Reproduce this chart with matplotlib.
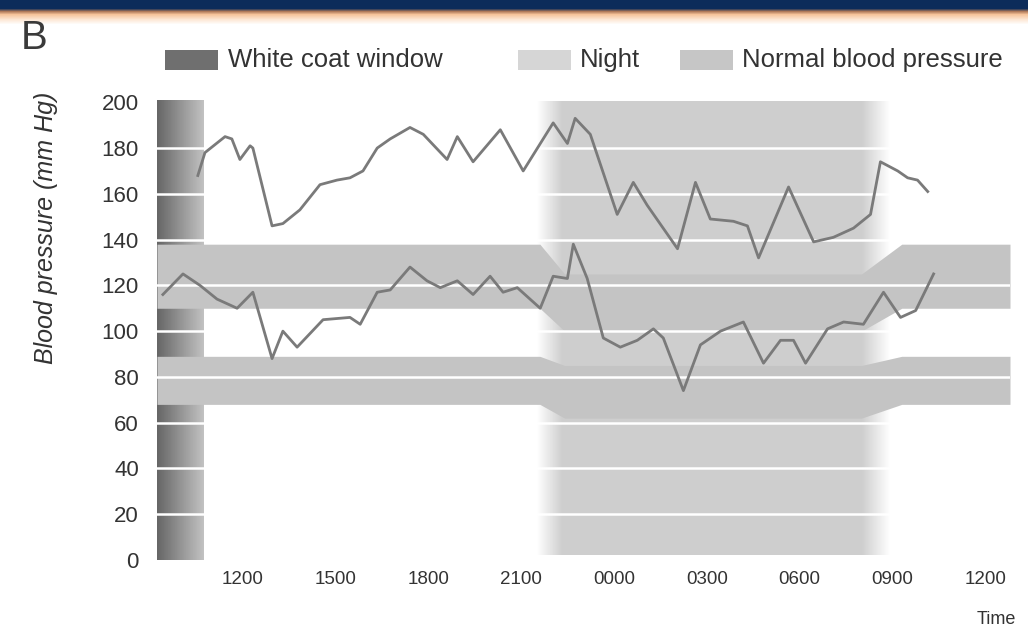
import matplotlib.pyplot as plt
import numpy as np
from matplotlib.colors import to_rgb
from matplotlib.patches import Rectangle


# time in hours from midnight of day 1 (values above 24 are the next morning)
sys_time = [10.54, 10.77, 11.42, 11.64, 11.90, 12.23, 12.32, 12.94, 13.29, 13.84,
            14.49, 15.04, 15.46, 15.88, 16.34, 16.76, 17.40, 17.83, 18.60, 18.93,
            19.44, 20.32, 21.06, 22.03, 22.49, 22.74, 23.23, 24.10, 24.62, 25.07,
            26.05, 26.63, 27.11, 27.86, 28.31, 28.67, 29.64, 30.45, 31.09, 31.74,
            32.29, 32.61, 33.17, 33.49, 33.81, 34.14]
systolic = [168, 178, 185, 184, 175, 181, 180, 146, 147, 153,
            164, 166, 167, 170, 180, 184, 189, 186, 175, 185,
            174, 188, 170, 191, 182, 193, 186, 151, 165, 155,
            136, 165, 149, 148, 146, 132, 163, 139, 141, 145,
            151, 174, 170, 167, 166, 161]

dia_time = [9.41, 10.06, 10.61, 11.16, 11.81, 12.32, 12.94, 13.29, 13.75, 14.59,
            15.46, 15.79, 16.34, 16.76, 17.40, 17.95, 18.38, 18.93, 19.44, 19.99,
            20.41, 20.87, 21.61, 22.03, 22.49, 22.68, 23.13, 23.65, 24.20, 24.75,
            25.27, 25.59, 26.24, 26.79, 27.44, 28.18, 28.83, 29.38, 29.80, 30.19,
            30.90, 31.42, 32.06, 32.71, 33.26, 33.75, 34.33]
diastolic = [116, 125, 120, 114, 110, 117, 88, 100, 93, 105,
             106, 103, 117, 118, 128, 122, 119, 122, 116, 124,
             117, 119, 110, 124, 123, 138, 123, 97, 93, 96,
             101, 97, 74, 94, 100, 104, 86, 96, 96, 86,
             101, 104, 103, 117, 106, 109, 125]

# normal blood pressure ranges, day -> night -> day
band_time = [9.22, 21.6, 22.4, 32.0, 33.3, 36.8]
sys_low = [110, 110, 100, 100, 110, 110]
sys_high = [138, 138, 125, 125, 138, 138]
dia_low = [68, 68, 62, 62, 68, 68]
dia_high = [89, 89, 85, 85, 89, 89]

night_time = [21.5, 22.3, 32.0, 32.9]
white_coat = (9.22, 10.71)

tick_hours = [12, 15, 18, 21, 24, 27, 30, 33, 36]
tick_labels = ["1200", "1500", "1800", "2100", "0000", "0300", "0600", "0900", "1200"]
grid_levels = [20, 40, 60, 80, 100, 120, 140, 160, 180]

NARROW = ["Liberation Sans Narrow", "Liberation Sans", "DejaVu Sans"]
REGULAR = ["Liberation Sans", "DejaVu Sans"]
TEXT = "#333333"
LINE = "#7a7a7a"

W, H = 1028, 631
fig = plt.figure(figsize=(W / 100, H / 100), dpi=100)

# journal header strip
head = fig.add_axes([0, 1 - 24 / H, 1, 24 / H])
stops = [(0, "#0c2c5a"), (8, "#0c2c5a"), (11, "#b07a5a"), (14, "#f6c39a"),
         (19, "#fde7d4"), (24, "#ffffff")]
rows = np.arange(24)
grad = np.array([[np.interp(r, [s[0] for s in stops], [to_rgb(s[1])[k] for s in stops])
                  for k in range(3)] for r in rows])
head.imshow(grad[:, None, :], aspect="auto", extent=[0, 1, 24, 0])
head.axis("off")

ax = fig.add_axes([157 / W, 71 / H, (1010 - 157) / W, 460 / H])
t0, t1 = band_time[0], band_time[-1]

# night shading with soft edges
tgrid = np.linspace(t0, t1, 800)
alpha = np.interp(tgrid, night_time, [0, 1, 1, 0])
night = np.zeros((1, tgrid.size, 4))
night[..., :3] = 0.81
night[..., 3] = alpha
ax.imshow(night, extent=[t0, t1, 2, 200], aspect="auto", zorder=0,
          interpolation="bilinear")

# white coat window gradient
shade = np.linspace(0.40, 0.76, 60)[None, :]
ax.imshow(shade, extent=[white_coat[0], white_coat[1], 0, 201], aspect="auto",
          cmap="gray", vmin=0, vmax=1, zorder=1, interpolation="bilinear")

ax.fill_between(band_time, sys_low, sys_high, color="#c4c4c4", lw=0, zorder=2)
ax.fill_between(band_time, dia_low, dia_high, color="#c4c4c4", lw=0, zorder=2)

for level in grid_levels:
    ax.axhline(level, color="white", lw=1.8, zorder=3)

ax.plot(sys_time, systolic, color=LINE, lw=2.0, zorder=4)
ax.plot(dia_time, diastolic, color=LINE, lw=2.0, zorder=4)

ax.set_xlim(t0, t1)
ax.set_ylim(0, 201)
ax.set_xticks(tick_hours)
ax.set_xticklabels(tick_labels, family=NARROW, fontsize=13.5, color=TEXT)
ax.set_yticks(range(0, 201, 20))
ax.set_yticklabels([str(v) for v in range(0, 201, 20)], family=REGULAR,
                   fontsize=16, color=TEXT)
ax.tick_params(length=0)
ax.tick_params(axis="y", pad=13)
ax.tick_params(axis="x", pad=8)
for side in ax.spines.values():
    side.set_visible(False)

fig.text(46 / W, 1 - 228 / H, "Blood pressure (mm Hg)", rotation=90,
         ha="center", va="center", family=REGULAR, fontsize=18, color=TEXT,
         style="italic")
fig.text(1016 / W, 1 - 620 / H, "Time", ha="right", va="center",
         family=NARROW, fontsize=13, color=TEXT)
fig.text(34 / W, 1 - 38 / H, "B", ha="center", va="center", family=REGULAR,
         fontsize=29, color="#3a3a3a")

legend_items = [("White coat window", "#6f6f6f", 165, 228),
                ("Night", "#d6d6d6", 518, 580),
                ("Normal blood pressure", "#c6c6c6", 680, 742)]
for label, color, px, tx in legend_items:
    fig.add_artist(Rectangle((px / W, 1 - 70 / H), 53 / W, 20 / H, color=color,
                             lw=0, transform=fig.transFigure))
    fig.text(tx / W, 1 - 60 / H, label, ha="left", va="center", family=REGULAR,
             fontsize=18.5, color=TEXT)

fig.savefig("out.png", dpi=100)
